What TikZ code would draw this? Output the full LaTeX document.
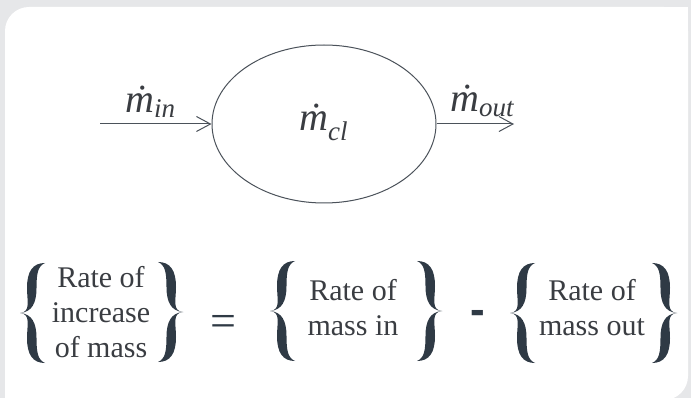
\documentclass[tikz,border=0pt]{standalone}
\usepackage{fontspec}
\setmainfont{Liberation Serif}
\newfontfamily\serifff{Liberation Serif}
\newfontfamily\dashfont{Liberation Sans}
\usetikzlibrary{shapes.geometric,arrows.meta}
\definecolor{bgc}{HTML}{E6E7E9}
\definecolor{bracec}{HTML}{2F3A45}
\definecolor{inkc}{HTML}{3A3D42}
\definecolor{linec}{HTML}{4B525A}
\newcommand{\mfont}{\serifff\fontsize{40}{40}\selectfont\itshape}
\newcommand{\subfont}{\serifff\fontsize{27}{27}\selectfont\itshape}
\tikzset{
  lbl/.style={inner sep=0pt, text=inkc},
  txt/.style={inner sep=0pt, text=inkc, align=center, font=\serifff\fontsize{30}{35}\selectfont},
  arr/.style={draw=linec, line width=1pt, -{Straight Barb[length=14pt,width=15pt,line width=1pt]}},
  lbrace/.pic={
    \fill[bracec] (0,0) .. controls (11,-1) and (7,-12) .. (7,-25) .. controls (7,-42) and (13,-50) .. (25,-50)
      .. controls (18,-47) and (16.5,-40) .. (16.5,-25) .. controls (16.5,-10) and (12,-1) .. (0,0) -- cycle;
    \fill[bracec] (0,0) .. controls (11,1) and (7,12) .. (7,25) .. controls (7,42) and (13,50) .. (25,50)
      .. controls (18,47) and (16.5,40) .. (16.5,25) .. controls (16.5,10) and (12,1) .. (0,0) -- cycle;
  }
}
\begin{document}
\begin{tikzpicture}[x=1pt,y=-1pt]
\useasboundingbox (0,0) rectangle (691,398);
\fill[bgc] (0,0) rectangle (691,398);
\fill[white, rounded corners=24pt] (5,7) rectangle (688,400);
\fill[white] (640,7) rectangle (688,40);
\fill[white] (5,360) rectangle (40,398);

% control volume
\node[draw=linec, line width=1pt, ellipse, minimum width=224pt, minimum height=158pt, inner sep=0pt] (cv) at (324,124) {};
\node[lbl, anchor=base west] (mcl) at (299,131) {\mfont ṁ\raisebox{-10pt}{\subfont cl}};

% flows
\coordinate (inL) at (100,124);
\coordinate (outR) at (514,124);
\draw[arr] (inL) -- (cv.west);
\draw[arr] (cv.east) -- (outR);
\node[lbl, anchor=base west] (min) at (125,113) {\mfont ṁ\raisebox{-5pt}{\subfont in}};
\node[lbl, anchor=base west] (mout) at (450,112) {\mfont ṁ\raisebox{-5pt}{\subfont out}};

% balance statement
\node[txt] (g1) at (101,312) {Rate of\\increase\\of mass};
\node[txt] (g2) at (353,308) {Rate of\\mass in};
\node[txt] (g3) at (592,308) {Rate of\\mass out};
\node[inner sep=0pt, text=bracec, anchor=base, font=\serifff\fontsize{46}{46}\selectfont] (eq) at (223.5,336) {=};
\node[inner sep=0pt, text=bracec, anchor=base, font=\dashfont\bfseries\fontsize{44}{44}\selectfont] (minus) at (477.5,324.5) {-};

\pic at (20,313) {lbrace};
\pic[xscale=-1] at (183,312) {lbrace};
\pic at (270,311) {lbrace};
\pic[xscale=-1] at (442,311) {lbrace};
\pic at (510,313) {lbrace};
\pic[xscale=-1] at (677,313) {lbrace};
\end{tikzpicture}
\end{document}
